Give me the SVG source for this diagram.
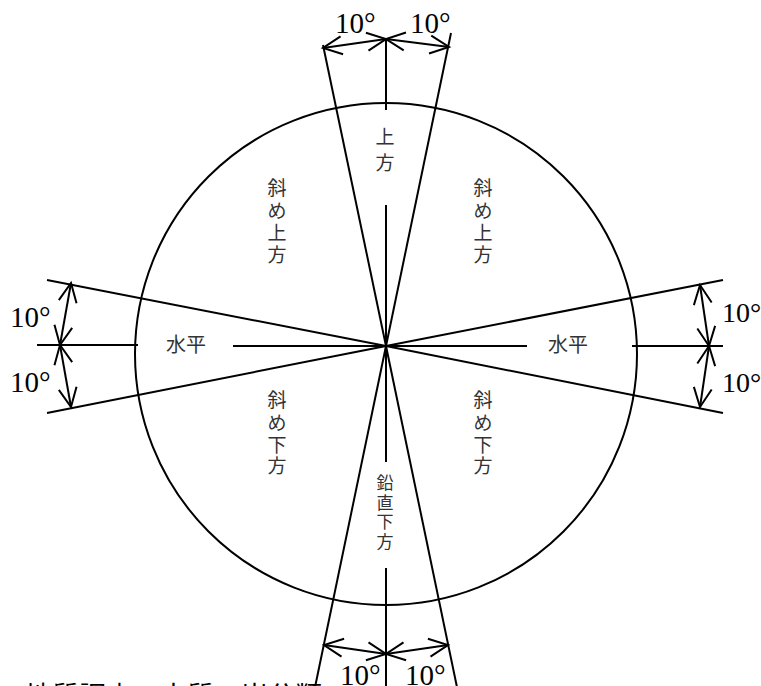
<svg xmlns="http://www.w3.org/2000/svg" width="761" height="686" viewBox="0 0 761 686">
<style>
.ln{stroke:#000;stroke-width:2;fill:none;stroke-linecap:butt}
.dim{stroke:#000;stroke-width:2;fill:none;marker-start:url(#ah);marker-end:url(#ah)}
.deg{font-family:"Liberation Serif",serif;font-size:29px;fill:#000}
.lab{font-family:"Noto Sans CJK JP",sans-serif;font-size:19px;fill:#333;text-anchor:middle}
.cap{font-family:"Noto Sans CJK JP",sans-serif;font-size:27px;fill:#000}
</style>
<defs>
<marker id="ah" viewBox="0 0 20 18" refX="19" refY="9" markerWidth="20" markerHeight="18" markerUnits="userSpaceOnUse" orient="auto-start-reverse" overflow="visible">
<path d="M0,0 L19,9 L0,18" fill="none" stroke="#000" stroke-width="2"/>
</marker>
</defs>
<rect width="761" height="686" fill="#fff"/>
<g id="circle">
<circle cx="386" cy="354" r="251" class="ln"/>
</g>
<g id="connectors">
<line class="ln" x1="386" y1="346" x2="323" y2="45"/>
<line class="ln" x1="386" y1="346" x2="451" y2="33"/>
<line class="ln" x1="386" y1="346" x2="314" y2="692"/>
<line class="ln" x1="386" y1="346" x2="458" y2="692"/>
<line class="ln" x1="386" y1="346" x2="47" y2="280"/>
<line class="ln" x1="386" y1="346" x2="47" y2="413"/>
<line class="ln" x1="386" y1="346" x2="723" y2="280"/>
<line class="ln" x1="386" y1="346" x2="723" y2="413"/>
<line class="ln" x1="386" y1="38" x2="386" y2="110"/>
<line class="ln" x1="386" y1="205" x2="386" y2="346"/>
<line class="ln" x1="386" y1="346" x2="386" y2="462"/>
<line class="ln" x1="386" y1="568" x2="386" y2="686"/>
<line class="ln" x1="37" y1="345" x2="138" y2="345"/>
<line class="ln" x1="233" y1="346" x2="386" y2="346"/>
<line class="ln" x1="386" y1="346" x2="527" y2="346"/>
<line class="ln" x1="632" y1="346" x2="723" y2="346"/>
<line class="dim" x1="386" y1="39" x2="323" y2="48"/>
<line class="dim" x1="386" y1="39" x2="449" y2="47"/>
<line class="dim" x1="386" y1="654" x2="324" y2="645"/>
<line class="dim" x1="386" y1="654" x2="448" y2="645"/>
<line class="dim" x1="60" y1="345" x2="71" y2="283"/>
<line class="dim" x1="60" y1="345" x2="71" y2="407"/>
<line class="dim" x1="709" y1="346" x2="700" y2="285"/>
<line class="dim" x1="709" y1="346" x2="700" y2="407"/>
</g>
<g id="angle-labels">
<text class="deg" x="335" y="33">10°</text>
<text class="deg" x="410" y="33">10°</text>
<text class="deg" x="10" y="327">10°</text>
<text class="deg" x="10" y="392">10°</text>
<text class="deg" x="722" y="322" style="font-size:28px">10°</text>
<text class="deg" x="722" y="392" style="font-size:28px">10°</text>
<text class="deg" x="340" y="685">10°</text>
<text class="deg" x="405" y="685">10°</text>
</g>
<g id="up">
<text class="lab" x="385" y="144">上</text>
<text class="lab" x="385" y="170">方</text>
</g>
<g id="up-left">
<text class="lab" x="277" y="195">斜</text>
<text class="lab" x="277" y="218">め</text>
<text class="lab" x="277" y="240">上</text>
<text class="lab" x="277" y="262">方</text>
</g>
<g id="up-right">
<text class="lab" x="483" y="195">斜</text>
<text class="lab" x="483" y="218">め</text>
<text class="lab" x="483" y="240">上</text>
<text class="lab" x="483" y="262">方</text>
</g>
<g id="horizontal-left">
<text class="lab" x="186" y="352" style="font-size:20px">水平</text>
</g>
<g id="horizontal-right">
<text class="lab" x="568" y="352" style="font-size:20px">水平</text>
</g>
<g id="down-left">
<text class="lab" x="277" y="407">斜</text>
<text class="lab" x="277" y="430">め</text>
<text class="lab" x="277" y="452">下</text>
<text class="lab" x="277" y="473">方</text>
</g>
<g id="down-right">
<text class="lab" x="483" y="407">斜</text>
<text class="lab" x="483" y="430">め</text>
<text class="lab" x="483" y="452">下</text>
<text class="lab" x="483" y="473">方</text>
</g>
<g id="down">
<text class="lab" x="385" y="489" style="font-size:17px">鉛</text>
<text class="lab" x="385" y="509" style="font-size:17px">直</text>
<text class="lab" x="385" y="528" style="font-size:17px">下</text>
<text class="lab" x="385" y="548" style="font-size:17px">方</text>
</g>
<g id="caption">
<text class="cap" x="25" y="706">地質調査の土質・岩分類</text>
</g>
</svg>
